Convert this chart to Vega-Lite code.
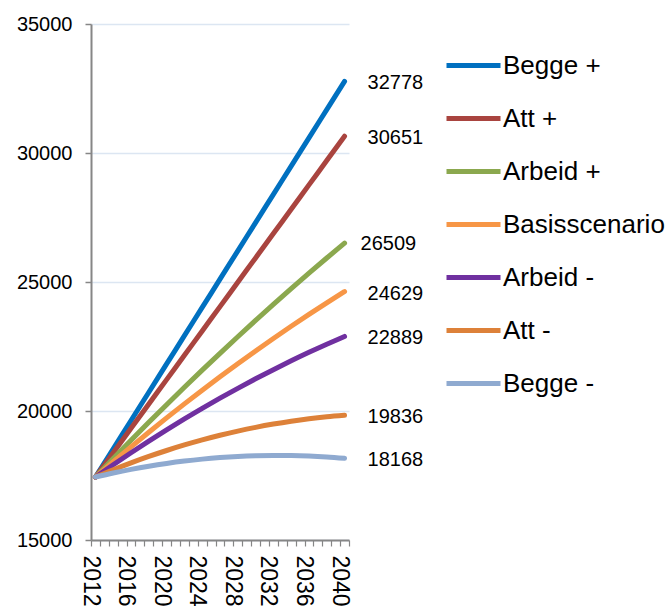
{
  "$schema": "https://vega.github.io/schema/vega-lite/v6.json",
  "width": 258,
  "height": 516,
  "autosize": "none",
  "padding": {"left": 91, "top": 24, "right": 323, "bottom": 72},
  "background": "white",
  "config": {
    "view": {"stroke": null},
    "font": "Liberation Sans",
    "axis": {"labelFont": "Liberation Sans", "labelColor": "#000000", "domainColor": "#868686", "tickColor": "#868686", "title": null}
  },
  "data": {"values": [
    {"Year": 2012, "Scenario": "Begge +", "Value": 17442}, {"Year": 2014, "Scenario": "Begge +", "Value": 18537}, {"Year": 2016, "Scenario": "Begge +", "Value": 19633}, {"Year": 2018, "Scenario": "Begge +", "Value": 20728}, {"Year": 2020, "Scenario": "Begge +", "Value": 21824}, {"Year": 2022, "Scenario": "Begge +", "Value": 22919}, {"Year": 2024, "Scenario": "Begge +", "Value": 24015}, {"Year": 2026, "Scenario": "Begge +", "Value": 25110}, {"Year": 2028, "Scenario": "Begge +", "Value": 26206}, {"Year": 2030, "Scenario": "Begge +", "Value": 27301}, {"Year": 2032, "Scenario": "Begge +", "Value": 28397}, {"Year": 2034, "Scenario": "Begge +", "Value": 29492}, {"Year": 2036, "Scenario": "Begge +", "Value": 30588}, {"Year": 2038, "Scenario": "Begge +", "Value": 31683}, {"Year": 2040, "Scenario": "Begge +", "Value": 32778},
    {"Year": 2012, "Scenario": "Att +", "Value": 17442}, {"Year": 2014, "Scenario": "Att +", "Value": 18385}, {"Year": 2016, "Scenario": "Att +", "Value": 19329}, {"Year": 2018, "Scenario": "Att +", "Value": 20272}, {"Year": 2020, "Scenario": "Att +", "Value": 21216}, {"Year": 2022, "Scenario": "Att +", "Value": 22159}, {"Year": 2024, "Scenario": "Att +", "Value": 23103}, {"Year": 2026, "Scenario": "Att +", "Value": 24046}, {"Year": 2028, "Scenario": "Att +", "Value": 24990}, {"Year": 2030, "Scenario": "Att +", "Value": 25933}, {"Year": 2032, "Scenario": "Att +", "Value": 26877}, {"Year": 2034, "Scenario": "Att +", "Value": 27820}, {"Year": 2036, "Scenario": "Att +", "Value": 28764}, {"Year": 2038, "Scenario": "Att +", "Value": 29707}, {"Year": 2040, "Scenario": "Att +", "Value": 30651},
    {"Year": 2012, "Scenario": "Arbeid +", "Value": 17442}, {"Year": 2014, "Scenario": "Arbeid +", "Value": 18159}, {"Year": 2016, "Scenario": "Arbeid +", "Value": 18864}, {"Year": 2018, "Scenario": "Arbeid +", "Value": 19560}, {"Year": 2020, "Scenario": "Arbeid +", "Value": 20244}, {"Year": 2022, "Scenario": "Arbeid +", "Value": 20919}, {"Year": 2024, "Scenario": "Arbeid +", "Value": 21583}, {"Year": 2026, "Scenario": "Arbeid +", "Value": 22235}, {"Year": 2028, "Scenario": "Arbeid +", "Value": 22878}, {"Year": 2030, "Scenario": "Arbeid +", "Value": 23510}, {"Year": 2032, "Scenario": "Arbeid +", "Value": 24130}, {"Year": 2034, "Scenario": "Arbeid +", "Value": 24741}, {"Year": 2036, "Scenario": "Arbeid +", "Value": 25341}, {"Year": 2038, "Scenario": "Arbeid +", "Value": 25930}, {"Year": 2040, "Scenario": "Arbeid +", "Value": 26509},
    {"Year": 2012, "Scenario": "Basisscenario", "Value": 17442}, {"Year": 2014, "Scenario": "Basisscenario", "Value": 18032}, {"Year": 2016, "Scenario": "Basisscenario", "Value": 18611}, {"Year": 2018, "Scenario": "Basisscenario", "Value": 19177}, {"Year": 2020, "Scenario": "Basisscenario", "Value": 19733}, {"Year": 2022, "Scenario": "Basisscenario", "Value": 20275}, {"Year": 2024, "Scenario": "Basisscenario", "Value": 20806}, {"Year": 2026, "Scenario": "Basisscenario", "Value": 21326}, {"Year": 2028, "Scenario": "Basisscenario", "Value": 21833}, {"Year": 2030, "Scenario": "Basisscenario", "Value": 22329}, {"Year": 2032, "Scenario": "Basisscenario", "Value": 22813}, {"Year": 2034, "Scenario": "Basisscenario", "Value": 23284}, {"Year": 2036, "Scenario": "Basisscenario", "Value": 23745}, {"Year": 2038, "Scenario": "Basisscenario", "Value": 24193}, {"Year": 2040, "Scenario": "Basisscenario", "Value": 24629},
    {"Year": 2012, "Scenario": "Arbeid -", "Value": 17442}, {"Year": 2014, "Scenario": "Arbeid -", "Value": 17918}, {"Year": 2016, "Scenario": "Arbeid -", "Value": 18382}, {"Year": 2018, "Scenario": "Arbeid -", "Value": 18831}, {"Year": 2020, "Scenario": "Arbeid -", "Value": 19267}, {"Year": 2022, "Scenario": "Arbeid -", "Value": 19691}, {"Year": 2024, "Scenario": "Arbeid -", "Value": 20100}, {"Year": 2026, "Scenario": "Arbeid -", "Value": 20496}, {"Year": 2028, "Scenario": "Arbeid -", "Value": 20878}, {"Year": 2030, "Scenario": "Arbeid -", "Value": 21247}, {"Year": 2032, "Scenario": "Arbeid -", "Value": 21602}, {"Year": 2034, "Scenario": "Arbeid -", "Value": 21944}, {"Year": 2036, "Scenario": "Arbeid -", "Value": 22273}, {"Year": 2038, "Scenario": "Arbeid -", "Value": 22587}, {"Year": 2040, "Scenario": "Arbeid -", "Value": 22889},
    {"Year": 2012, "Scenario": "Att -", "Value": 17442}, {"Year": 2014, "Scenario": "Att -", "Value": 17724}, {"Year": 2016, "Scenario": "Att -", "Value": 17990}, {"Year": 2018, "Scenario": "Att -", "Value": 18238}, {"Year": 2020, "Scenario": "Att -", "Value": 18469}, {"Year": 2022, "Scenario": "Att -", "Value": 18683}, {"Year": 2024, "Scenario": "Att -", "Value": 18880}, {"Year": 2026, "Scenario": "Att -", "Value": 19059}, {"Year": 2028, "Scenario": "Att -", "Value": 19222}, {"Year": 2030, "Scenario": "Att -", "Value": 19367}, {"Year": 2032, "Scenario": "Att -", "Value": 19495}, {"Year": 2034, "Scenario": "Att -", "Value": 19606}, {"Year": 2036, "Scenario": "Att -", "Value": 19700}, {"Year": 2038, "Scenario": "Att -", "Value": 19776}, {"Year": 2040, "Scenario": "Att -", "Value": 19836},
    {"Year": 2012, "Scenario": "Begge -", "Value": 17442}, {"Year": 2014, "Scenario": "Begge -", "Value": 17597}, {"Year": 2016, "Scenario": "Begge -", "Value": 17737}, {"Year": 2018, "Scenario": "Begge -", "Value": 17860}, {"Year": 2020, "Scenario": "Begge -", "Value": 17967}, {"Year": 2022, "Scenario": "Begge -", "Value": 18059}, {"Year": 2024, "Scenario": "Begge -", "Value": 18135}, {"Year": 2026, "Scenario": "Begge -", "Value": 18195}, {"Year": 2028, "Scenario": "Begge -", "Value": 18239}, {"Year": 2030, "Scenario": "Begge -", "Value": 18267}, {"Year": 2032, "Scenario": "Begge -", "Value": 18279}, {"Year": 2034, "Scenario": "Begge -", "Value": 18274}, {"Year": 2036, "Scenario": "Begge -", "Value": 18255}, {"Year": 2038, "Scenario": "Begge -", "Value": 18219}, {"Year": 2040, "Scenario": "Begge -", "Value": 18168}
  ]},
  "encoding": {
    "x": {
      "field": "Year", "type": "quantitative",
      "scale": {"domain": [2011.5, 2040.5], "nice": false, "zero": false},
      "axis": {
        "values": [2011.5, 2012.5, 2013.5, 2014.5, 2015.5, 2016.5, 2017.5, 2018.5, 2019.5, 2020.5, 2021.5, 2022.5, 2023.5, 2024.5, 2025.5, 2026.5, 2027.5, 2028.5, 2029.5, 2030.5, 2031.5, 2032.5, 2033.5, 2034.5, 2035.5, 2036.5, 2037.5, 2038.5, 2039.5, 2040.5],
        "labelExpr": "(datum.value + 0.5 - 2012) % 4 == 0 ? '' + (datum.value + 0.5) : ''",
        "labelAngle": 90, "labelFontSize": 23, "labelOverlap": false, "labelOffset": -1, "labelPadding": 9, "labelFlush": false,
        "tickSize": 6, "tickWidth": 1.2, "domainWidth": 2, "grid": false
      }
    },
    "y": {
      "field": "Value", "type": "quantitative",
      "scale": {"domain": [15000, 35000], "nice": false, "zero": false},
      "axis": {
        "values": [15000, 20000, 25000, 30000, 35000],
        "format": "d", "labelFontSize": 20, "labelPadding": 13, "tickSize": 6, "tickWidth": 1.5, "domainWidth": 2,
        "grid": true, "gridColor": "#DCE6F2", "gridWidth": 1.5
      }
    },
    "color": {
      "field": "Scenario", "type": "nominal",
      "scale": {
        "domain": ["Begge +", "Att +", "Arbeid +", "Basisscenario", "Arbeid -", "Att -", "Begge -"],
        "range": ["#0070C0", "#A9443F", "#8BA84E", "#F79646", "#7030A0", "#DD8139", "#8FAAD0"]
      },
      "legend": {
        "title": null, "orient": "none", "legendX": 353, "legendY": 12,
        "symbolType": "stroke", "symbolSize": 2916, "symbolStrokeWidth": 5,
        "labelFontSize": 26, "labelFont": "Liberation Sans", "labelColor": "#000000", "labelOffset": 0,
        "rowPadding": 10, "labelLimit": 400
      }
    }
  },
  "layer": [
    {
      "mark": {"type": "line", "strokeWidth": 5, "strokeCap": "round", "interpolate": "monotone", "clip": false}
    },
    {
      "transform": [{"filter": "datum.Year == 2040 && datum.Scenario != 'Arbeid +'"}],
      "mark": {"type": "text", "align": "left", "baseline": "middle", "dx": 23, "dy": 2, "fontSize": 20, "color": "#000000"},
      "encoding": {"text": {"field": "Value", "type": "quantitative", "format": "d"}, "color": {"value": "#000000"}}
    },
    {
      "transform": [{"filter": "datum.Year == 2040 && datum.Scenario == 'Arbeid +'"}],
      "mark": {"type": "text", "align": "left", "baseline": "middle", "dx": 16, "dy": 1, "fontSize": 20, "color": "#000000"},
      "encoding": {"text": {"field": "Value", "type": "quantitative", "format": "d"}, "color": {"value": "#000000"}}
    }
  ]
}
